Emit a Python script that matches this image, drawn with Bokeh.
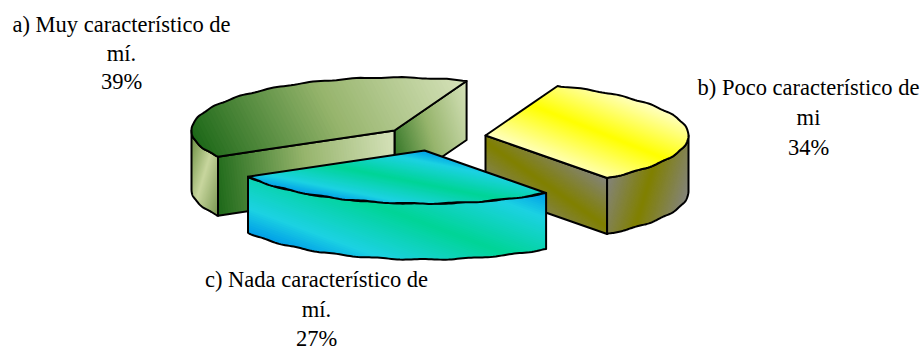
import math
from bokeh.plotting import figure
from bokeh.models import Range1d
from bokeh.core.properties import value
from bokeh.embed import file_html
from bokeh.resources import INLINE

# data
shares = [39, 34, 27]
label_first = ["a) Muy característico de", "b) Poco característico de", "c) Nada característico de"]
label_second = ["mí.", "mi", "mí."]
label_pct = ["39%", "34%", "27%"]

# geometry (page pixels)
START = 209.6
RX, RY = 203.0, 53.0
DEPTHS = [59.0, 56.0, 56.0]
APEX = [(394, 130), (485, 135), (424, 150)]
LABEL_X = [121, 808, 316]
LABEL_Y = [(24, 53, 81), (87, 117, 147), (279, 309, 338)]

G_DARK, G_MID, G_LIGHT = (28, 104, 24), (150, 180, 108), (214, 226, 186)
Y_PALE, Y_FULL = (255, 255, 196), (255, 255, 0)
GRAY, OLIVE = (132, 132, 124), (128, 128, 0)
BLUE, CYAN, AQUA, TEAL = (0, 156, 232), (28, 210, 226), (14, 211, 188), (0, 212, 150)
BLUE_BANDS = [BLUE, CYAN, AQUA, TEAL, AQUA, CYAN, BLUE]

p = figure(width=922, height=350, output_backend="svg", toolbar_location=None,
           x_range=Range1d(0, 922), y_range=Range1d(350, 0), min_border=0,
           outline_line_color=None, background_fill_color="white", border_fill_color="white")
p.axis.visible = False
p.grid.visible = False


def clip(poly, d, g0):
    out = []
    n = len(poly)
    for i in range(n):
        a, b = poly[i], poly[(i + 1) % n]
        ga = a[0] * d[0] + a[1] * d[1] - g0
        gb = b[0] * d[0] + b[1] * d[1] - g0
        if ga >= 0:
            out.append(a)
        if (ga >= 0) != (gb >= 0):
            t = ga / (ga - gb)
            out.append((a[0] + t * (b[0] - a[0]), a[1] + t * (b[1] - a[1])))
    return out


def colour(stops, f):
    f = max(0.0, min(1.0, f)) * (len(stops) - 1)
    i = min(int(f), len(stops) - 2)
    t = f - i
    c = [round(stops[i][k] + t * (stops[i + 1][k] - stops[i][k])) for k in range(3)]
    return "#%02x%02x%02x" % tuple(c)


def shade(poly, d, stops, steps=70):
    gs = [q[0] * d[0] + q[1] * d[1] for q in poly]
    g0, g1 = min(gs), max(gs)
    xs, ys, cs = [], [], []
    for k in range(steps):
        f = k / steps
        part = poly if k == 0 else clip(poly, d, g0 + f * (g1 - g0))
        if len(part) < 3:
            continue
        xs.append([q[0] for q in part])
        ys.append([q[1] for q in part])
        cs.append(colour(stops, f + 0.5 / steps))
    p.patches(xs, ys, fill_color=cs, line_color=None)
    p.patch([q[0] for q in poly], [q[1] for q in poly], fill_color=None,
            fill_alpha=0, line_color="black", line_width=2, line_join="round")


def pt(c, deg, drop=0.0):
    r = math.radians(deg)
    # slight ripple along the curved rim, as in the reference
    ripple = 0.45 * math.sin(2 * math.pi * deg / 13.0)
    return (c[0] + RX * math.cos(r), c[1] - RY * math.sin(r) + drop + ripple)


def corner(c, deg):
    r = math.radians(deg)
    return (c[0] + RX * math.cos(r), c[1] - RY * math.sin(r))


def arc(c, a0, a1, drop=0.0, n=120):
    first, end = corner(c, a0), corner(c, a1)
    pts = [(first[0], first[1] + drop)]
    pts += [pt(c, a0 + (a1 - a0) * i / n, drop) for i in range(1, n)]
    pts.append((end[0], end[1] + drop))
    return pts


def rim(c, a0, a1, depth):
    return arc(c, a0, a1) + arc(c, a1, a0, depth)


def wall(c, deg, depth):
    q = corner(c, deg)
    return [c, q, (q[0], q[1] + depth), (c[0], c[1] + depth)]


# sweep clockwise from START through the shares
angles = [START]
for s in shares:
    angles.append(angles[-1] - s * 3.6)
a0, a1, b1, c1 = angles

# a) green slice
c, h = APEX[0], DEPTHS[0]
shade(rim(c, 180, a0, h), (1, 0.3), [(100, 138, 60), (200, 214, 158), (120, 150, 80)])
shade(wall(c, a1, h), (1, -0.3), [G_DARK, G_MID, G_LIGHT])
shade(wall(c, a0, h), (1, -0.12), [G_DARK, G_MID, G_LIGHT])
shade(arc(c, a0, a1) + [c], (1, -0.5), [G_DARK, G_MID, G_LIGHT])

# b) yellow slice
c, h = APEX[1], DEPTHS[1]
shade(wall(c, b1, h), (0.7, -1), [GRAY, OLIVE, GRAY])
shade(rim(c, b1, 0, h), (1, 0.3), [GRAY, OLIVE, GRAY])
shade(arc(c, a1, b1) + [c], (0.4, -1), [Y_PALE, Y_FULL, Y_PALE])

# c) blue slice
c, h = APEX[2], DEPTHS[2]
shade(rim(c, b1 + 360, a0, h), (0.37, -1), BLUE_BANDS)
shade(arc(c, b1, c1) + [c], (0.2, -1), BLUE_BANDS)

# labels
for i in range(3):
    for text, y in zip((label_first[i], label_second[i], label_pct[i]), LABEL_Y[i]):
        p.text([LABEL_X[i]], [y], text=[text], text_font=value("Liberation Serif"),
               text_font_size="22.5px", text_color="black", text_align="center",
               text_baseline="alphabetic")

open("out.html", "w").write(file_html(p, INLINE))
